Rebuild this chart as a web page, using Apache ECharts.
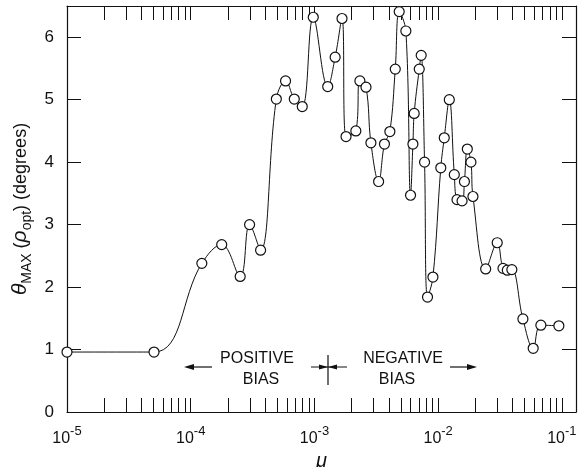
<!DOCTYPE html>
<html>
<head>
<meta charset="utf-8">
<script src="https://cdn.jsdelivr.net/npm/echarts@6/dist/echarts.min.js"></script>
<style>
html,body{margin:0;padding:0;background:#fff;}
#chart{width:583px;height:467px;}
</style>
</head>
<body>
<div id="chart"></div>
<script>
// mu values (x, log scale)
const mu = [1e-5, 5.05e-5, 1.23e-4, 1.78e-4, 2.51e-4, 2.99e-4, 3.67e-4, 4.92e-4, 5.84e-4, 6.87e-4,
  7.97e-4, 9.78e-4, 1.28e-3, 1.47e-3, 1.67e-3, 1.80e-3, 2.16e-3, 2.33e-3, 2.61e-3, 2.86e-3,
  3.30e-3, 3.68e-3, 4.07e-3, 4.50e-3, 4.84e-3, 5.48e-3, 5.98e-3, 6.25e-3, 6.40e-3, 7.03e-3,
  7.29e-3, 7.76e-3, 8.20e-3, 9.07e-3, 1.05e-2, 1.12e-2, 1.23e-2, 1.35e-2, 1.42e-2, 1.56e-2,
  1.63e-2, 1.72e-2, 1.84e-2, 1.91e-2, 2.42e-2, 3.00e-2, 3.34e-2, 3.62e-2, 3.94e-2, 4.84e-2,
  5.86e-2, 6.76e-2, 9.45e-2];
// theta_MAX(rho_opt) in degrees
const theta = [0.96, 0.96, 2.38, 2.68, 2.17, 3.00, 2.59, 5.01, 5.30, 5.01,
  4.89, 6.32, 5.21, 5.68, 6.30, 4.41, 4.50, 5.30, 5.20, 4.31,
  3.69, 4.29, 4.49, 5.49, 6.41, 6.10, 3.47, 4.29, 4.78, 5.49,
  5.71, 4.00, 1.84, 2.16, 3.91, 4.39, 5.00, 3.80, 3.40, 3.38,
  3.69, 4.21, 4.00, 3.45, 2.29, 2.71, 2.30, 2.27, 2.28, 1.49,
  1.02, 1.39, 1.38];
// axis ticks
const xDecades = [1e-5, 1e-4, 1e-3, 1e-2, 1e-1];
const yTicks = [0, 1, 2, 3, 4, 5, 6];
const xMinorTicks = [];
xDecades.forEach(function (d, i) {
  for (let k = 1; k <= 9; k++) {
    if (i === xDecades.length - 1 && k > 1) break;
    xMinorTicks.push(parseFloat((k * d).toPrecision(3)));
  }
});

const FONT = "'Liberation Sans', Arial, Helvetica, sans-serif";
const INK = '#111';

function xAxisDef(pos, labelled) {
  const a = {
    type: 'log',
    logBase: 10,
    min: 1e-5,
    max: 0.13,
    position: pos,
    splitLine: { show: false },
    axisLine: { show: true, onZero: false, lineStyle: { color: INK, width: 1.2 } },
    axisTick: { show: true, inside: true, length: 14, customValues: xMinorTicks.slice(), lineStyle: { color: INK, width: 1 } },
    minorTick: { show: false }
  };
  if (labelled) {
    a.name = 'μ';
    a.nameLocation = 'middle';
    a.nameGap = 35;
    a.nameTextStyle = { fontFamily: FONT, fontSize: 20, fontStyle: 'italic', color: INK };
    a.axisLabel = {
      show: true,
      customValues: xDecades.slice(),
      margin: 13,
      formatter: function (v) {
        const e = Math.round(Math.log10(v));
        return '{b|10}{s|' + e + '}';
      },
      rich: {
        b: { fontFamily: FONT, fontSize: 16, color: INK, lineHeight: 22, verticalAlign: 'bottom' },
        s: { fontFamily: FONT, fontSize: 13, color: INK, verticalAlign: 'top' }
      }
    };
  } else {
    a.axisLabel = { show: false };
  }
  return a;
}
function yAxisDef(pos, labelled) {
  const a = {
    type: 'value',
    min: 0,
    max: 6.5,
    interval: 1,
    position: pos,
    splitLine: { show: false },
    axisLine: { show: true, onZero: false, lineStyle: { color: INK, width: 1.2 } },
    axisTick: { show: true, inside: true, length: 14, customValues: yTicks.slice(), lineStyle: { color: INK, width: 1 } }
  };
  if (labelled) {
    a.name = '{t|θ}{sub|MAX}{n| (}{t|ρ}{sub|opt}{n|) (degrees)}';
    a.nameLocation = 'middle';
    a.nameGap = 33;
    a.nameTextStyle = {
      rich: {
        t: { fontFamily: FONT, fontSize: 21, fontStyle: 'italic', color: INK, lineHeight: 26 },
        sub: { fontFamily: FONT, fontSize: 14, color: INK, verticalAlign: 'bottom' },
        n: { fontFamily: FONT, fontSize: 18, color: INK, lineHeight: 26 }
      }
    };
    a.axisLabel = { show: true, customValues: yTicks.slice(), margin: 13, fontFamily: FONT, fontSize: 17, color: INK };
  } else {
    a.axisLabel = { show: false };
  }
  return a;
}

const chart = echarts.init(document.getElementById('chart'));
chart.setOption({
  animation: false,
  backgroundColor: '#fff',
  grid: { left: 67, right: 7, top: 6, bottom: 55, containLabel: false, outerBoundsMode: 'none' },
  xAxis: [xAxisDef('bottom', true), xAxisDef('top', false)],
  yAxis: [yAxisDef('left', true), yAxisDef('right', false)],
  series: [{
    type: 'line',
    data: mu.map(function (m, i) { return [m, theta[i]]; }),
    smooth: 0.4,
    symbol: 'circle',
    symbolSize: 10,
    showAllSymbol: true,
    lineStyle: { color: INK, width: 1 },
    itemStyle: { color: '#fff', borderColor: INK, borderWidth: 1.2 },
    z: 3
  }],
  graphic: [
    { type: 'text', x: 257, y: 359, style: { text: 'POSITIVE', font: '16px ' + FONT, fill: INK, align: 'center', verticalAlign: 'middle' } },
    { type: 'text', x: 261, y: 380, style: { text: 'BIAS', font: '16px ' + FONT, fill: INK, align: 'center', verticalAlign: 'middle' } },
    { type: 'text', x: 403, y: 359, style: { text: 'NEGATIVE', font: '16px ' + FONT, fill: INK, align: 'center', verticalAlign: 'middle' } },
    { type: 'text', x: 397, y: 380, style: { text: 'BIAS', font: '16px ' + FONT, fill: INK, align: 'center', verticalAlign: 'middle' } },
    { type: 'line', shape: { x1: 190, y1: 367, x2: 212, y2: 367 }, style: { stroke: INK, lineWidth: 1.2 } },
    { type: 'polygon', shape: { points: [[184, 367], [194, 364], [194, 370]] }, style: { fill: INK } },
    { type: 'line', shape: { x1: 450, y1: 367, x2: 470, y2: 367 }, style: { stroke: INK, lineWidth: 1.2 } },
    { type: 'polygon', shape: { points: [[477, 367], [467, 364], [467, 370]] }, style: { fill: INK } },
    { type: 'line', shape: { x1: 328, y1: 355, x2: 328, y2: 385 }, style: { stroke: INK, lineWidth: 1.2 } },
    { type: 'line', shape: { x1: 311, y1: 367, x2: 347, y2: 367 }, style: { stroke: INK, lineWidth: 1.2 } },
    { type: 'polygon', shape: { points: [[328, 367], [319, 364.5], [319, 369.5]] }, style: { fill: INK } },
    { type: 'polygon', shape: { points: [[328, 367], [337, 364.5], [337, 369.5]] }, style: { fill: INK } }
  ]
});
</script>
</body>
</html>
